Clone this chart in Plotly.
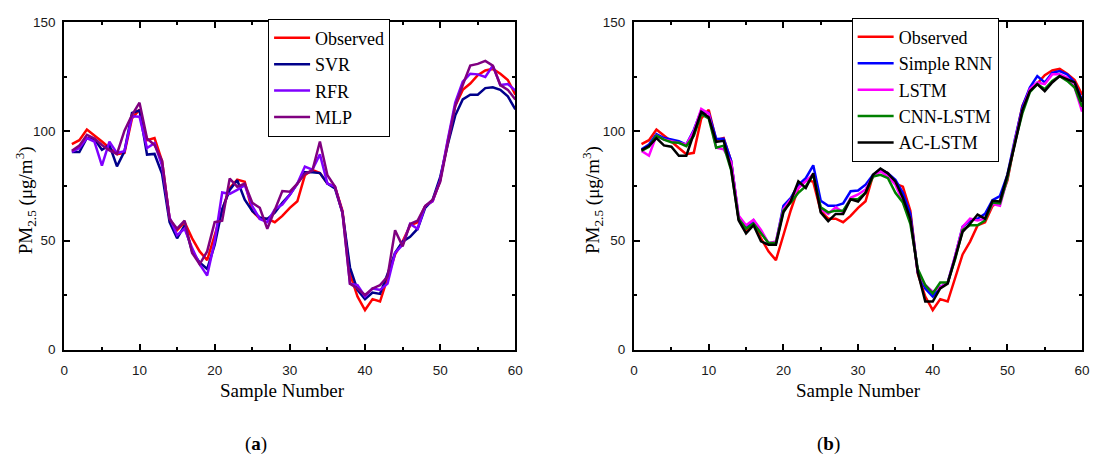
import plotly.graph_objects as go

# Sample index (1..60)
samples = list(range(1, 61))

# Observed PM2.5 concentrations
observed = [94.2, 96, 100.9, 98.3, 95.4, 92.4, 89.6, 90.2, 106, 110,
            96, 97, 86.5, 60, 54.7, 58.4, 51, 45, 41, 52.4,
            64, 74, 77.9, 76.9, 63.5, 60, 60, 58.4, 61.3, 65,
            68, 79.9, 82.4, 81, 76.1, 74.7, 63.6, 34.7, 24.3, 18.1,
            23.1, 22, 33.2, 43.6, 49.5, 56.9, 58.4, 65.8, 68, 77.6,
            95.4, 111.7, 119.1, 122, 125.8, 128, 128.7, 126.5, 123.6, 116.9]

# (a) classical machine-learning models
svr = [90.6, 90.6, 97, 96.5, 91.6, 93.8, 84, 90.9, 108.5, 109.7,
       89.4, 89.7, 80.6, 58.4, 51, 56.9, 45, 39.9, 36.9, 48,
       64.3, 73.2, 77.6, 68.7, 63.6, 60.6, 59.9, 62.8, 67.3, 71,
       76.1, 81.3, 81.3, 80.9, 76.1, 73.9, 62.8, 37.6, 27.3, 23.1,
       26.1, 25.5, 34.7, 44.3, 49.5, 51.7, 55.4, 65, 68.7, 79.1,
       93.9, 107.3, 114.7, 116.9, 116.9, 119.9, 120.3, 119.1, 116.1, 110.2]
rfr = [90.6, 92.4, 97, 95.3, 84.3, 95.3, 90.1, 90.9, 107, 106.8,
       92.4, 94.6, 84.3, 60.6, 52.4, 55.4, 46.5, 39.1, 33.9, 49.5,
       72, 71.4, 73.2, 75.4, 65.8, 59.9, 58.4, 64.3, 66.5, 71,
       76.1, 83.9, 82.5, 89.5, 76.1, 74.7, 62.8, 30.2, 29.5, 24.3,
       28, 27.3, 30.2, 44.3, 48, 57.6, 55.4, 65.8, 68, 77.6,
       96.1, 113.2, 122.8, 126.5, 126.2, 125, 130.2, 121.3, 121.8, 118.8]
mlp = [91.2, 93.5, 98.5, 96.8, 93.8, 91.3, 89.7, 100.4, 107.5, 113.2,
       96.8, 93.8, 86.5, 59.9, 55.4, 59.1, 44.3, 39.1, 45, 58.4,
       59.1, 78.4, 74.7, 76.1, 67.3, 65, 55.4, 64.3, 72.7, 72.4,
       76.1, 80.6, 82.1, 95.4, 79.9, 74.7, 62.8, 30.2, 28, 25,
       28, 29.5, 33.5, 54.7, 47.3, 57.6, 59.1, 65.8, 68.7, 76.9,
       94.7, 111.7, 121.3, 130.2, 131, 132.4, 130.2, 121.3, 119.1, 114.7]

# (b) recurrent / deep-learning models
simple_rnn = [91.8, 94, 98.8, 97, 96.3, 95.5, 94, 100.7, 109.6, 108.5,
              96.6, 96.7, 86.6, 60.7, 56.3, 59.2, 54, 48.8, 48.8, 65.9,
              69.6, 75.6, 78.6, 84.5, 68.2, 65.9, 65.9, 67, 72.6, 72.9,
              75.6, 80.1, 82.7, 80.8, 77.8, 71.9, 62.2, 35.4, 28, 24.3,
              28.7, 30.7, 42.9, 56.3, 59.2, 60, 62.2, 68.5, 70.4, 80.1,
              96.4, 111.3, 120.2, 125.4, 122.5, 126.9, 127.7, 126.2, 122.5, 114.3]
lstm = [91.1, 88.9, 98.1, 96.3, 95.5, 94.8, 94, 100, 110.4, 108.2,
        92.6, 91.8, 85.9, 61.5, 57, 59.5, 54.8, 48.8, 49.6, 64.4,
        68.9, 74.1, 77.1, 80.4, 64.4, 62.2, 65.2, 62.9, 69.6, 71.1,
        73.4, 79.3, 81.8, 79.3, 75.6, 68.2, 60, 35.4, 29.5, 26.5,
        28.7, 30.7, 42.9, 56.3, 60, 59.2, 60, 66.7, 65.9, 78.6,
        95.7, 109.8, 119.5, 122.5, 121.7, 126.2, 126.2, 124.7, 120.2, 109.1]
cnn_lstm = [91.1, 93, 98.1, 96.3, 95.1, 94.8, 93.3, 98, 108, 106,
            92.6, 93.5, 82.3, 60, 55.5, 57.7, 53.3, 48.8, 48.8, 63.7,
            67.4, 71.9, 74.9, 80.1, 65.2, 62.9, 63.7, 63.7, 68.9, 68.9,
            71.9, 79.3, 80.1, 78.6, 71.9, 67.4, 57.7, 36.9, 29.5, 25.7,
            30.7, 30.7, 41.4, 54.8, 57, 57, 59.2, 67.4, 67, 78.6,
            94.9, 108.3, 118, 121.7, 119.5, 123.2, 125.4, 123.2, 120.2, 111.3]
ac_lstm = [91.5, 93.3, 97, 93.6, 93, 88.9, 88.9, 98.7, 109, 106.5,
           95.2, 95.7, 83, 59.2, 53.3, 57, 49.6, 48.1, 48.1, 62.9,
           68.2, 77.1, 74.1, 80.8, 62.9, 58.9, 62.2, 62.2, 68.9, 67.9,
           71.9, 80.1, 83, 80.8, 77.1, 69.6, 60, 35.4, 22, 22,
           28, 30.2, 42.1, 54, 57.7, 61.9, 60, 68.2, 67.9, 80.1,
           94.2, 109.8, 118.5, 121.7, 118.5, 122.5, 125.4, 124, 122.5, 113.5]

panel_a = [("Observed", observed, "#ff0000"),
           ("SVR", svr, "#00008b"),
           ("RFR", rfr, "#8000ff"),
           ("MLP", mlp, "#800080")]
panel_b = [("Observed", observed, "#ff0000"),
           ("Simple RNN", simple_rnn, "#0000ff"),
           ("LSTM", lstm, "#ff00ff"),
           ("CNN-LSTM", cnn_lstm, "#008000"),
           ("AC-LSTM", ac_lstm, "#000000")]

W, H = 1099, 462
SERIF = "Liberation Serif"
SANS = "Liberation Sans"

fig = go.Figure()
for name, vals, col in panel_a:
    fig.add_trace(go.Scatter(x=samples, y=vals, mode="lines", name=name,
                             line=dict(color=col, width=2.5),
                             xaxis="x", yaxis="y", legend="legend"))
for name, vals, col in panel_b:
    fig.add_trace(go.Scatter(x=samples, y=vals, mode="lines", name=name,
                             line=dict(color=col, width=2.5),
                             xaxis="x2", yaxis="y2", legend="legend2"))


def px_x(p):
    return p / W


def px_y(p):
    return 1 - p / H


common = dict(showline=True, linewidth=2, linecolor="black", mirror="ticks",
              ticks="inside", ticklen=6, tickwidth=2, tickcolor="black",
              showgrid=False, zeroline=False,
              tickfont=dict(family=SANS, size=13.5, color="#1a1a1a"))
xcommon = dict(common, range=[0, 60], tickvals=[0, 10, 20, 30, 40, 50, 60],
               ticklabelstandoff=7,
               minor=dict(dtick=5, tick0=0, ticks="inside", ticklen=3,
                          tickwidth=2, tickcolor="black", showgrid=False))
ycommon = dict(common, range=[0, 150], tickvals=[0, 50, 100, 150],
               ticklabelstandoff=4,
               minor=dict(dtick=25, tick0=0, ticks="inside", ticklen=3,
                          tickwidth=2, tickcolor="black", showgrid=False))

legend_common = dict(bgcolor="white", bordercolor="black", borderwidth=1,
                     font=dict(family=SERIF, size=18, color="black"),
                     xanchor="left", yanchor="top", tracegroupgap=0,
                     itemwidth=36)

fig.update_layout(
    width=W, height=H, autosize=False,
    margin=dict(l=0, r=0, t=0, b=0),
    paper_bgcolor="white", plot_bgcolor="white",
    xaxis=dict(xcommon, domain=[px_x(61), px_x(517)], anchor="y"),
    yaxis=dict(ycommon, domain=[px_y(354), px_y(16)], anchor="x"),
    xaxis2=dict(xcommon, domain=[px_x(637), px_x(1090)], anchor="y2"),
    yaxis2=dict(ycommon, domain=[px_y(354), px_y(16)], anchor="x2"),
    legend=dict(legend_common, x=px_x(267), y=px_y(12)),
    legend2=dict(legend_common, x=px_x(857), y=px_y(11)),
    showlegend=True,
)

ytitle = "PM<sub>2.5</sub> (μg/m<sup>3</sup>)"
notes = [
    (22, 200, ytitle, -90),
    (595, 200, ytitle, -90),
    (282, 396, "Sample Number", 0),
    (864, 396, "Sample Number", 0),
    (255, 452, "(<b>a</b>)", 0),
    (834, 452, "(<b>b</b>)", 0),
]
for x, y, txt, ang in notes:
    fig.add_annotation(x=px_x(x), y=px_y(y), xref="paper", yref="paper",
                       text=txt, showarrow=False, textangle=ang,
                       xanchor="center", yanchor="middle",
                       font=dict(family=SERIF, size=19, color="black"))

fig.write_html("out.html")
